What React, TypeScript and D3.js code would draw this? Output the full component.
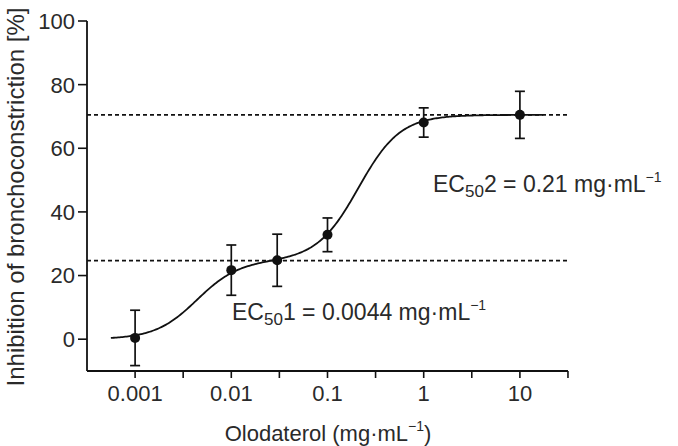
import React from "react";
import * as d3 from "d3";

const doses = [0.001, 0.01, 0.03, 0.1, 1, 10];
const means = [0.4, 21.7, 24.8, 32.8, 68.1, 70.5];
const sems = [8.7, 7.9, 8.2, 5.3, 4.6, 7.4];

const xTickValues = [0.001, 0.01, 0.1, 1, 10];
const xTickLabels = ["0.001", "0.01", "0.1", "1", "10"];
const xMinorTicks = [0.000316, 0.00316, 0.0316, 0.316, 3.16, 31.6];
const yTicks = [0, 20, 40, 60, 80, 100];

// fitted biphasic model parameters
const fitBottom = 0;
const fitPlateau = 24.7;
const fitTop = 70.5;
const fitEC50a = 0.0044;
const fitEC50b = 0.21;
const fitHillA = 2;
const fitHillB = 2;
const fitRange = [0.00056, 17.5];

const W = 678;
const H = 446;
const FONT = "'Liberation Sans', Arial, sans-serif";
const TXT = "#2a2a2a";
const INK = "#111";

export default function App() {
  const x = d3.scaleLog().domain([Math.pow(10, -3.5), Math.pow(10, 1.5)]).range([87, 568]);
  const y = d3.scaleLinear().domain([-10, 100]).range([371, 21]);

  const model = (c: number) =>
    fitBottom +
    (fitPlateau - fitBottom) / (1 + Math.pow(fitEC50a / c, fitHillA)) +
    (fitTop - fitPlateau) / (1 + Math.pow(fitEC50b / c, fitHillB));

  const lx0 = Math.log10(fitRange[0]);
  const lx1 = Math.log10(fitRange[1]);
  const curvePts: [number, number][] = d3.range(0, 301).map((i) => {
    const c = Math.pow(10, lx0 + ((lx1 - lx0) * i) / 300);
    return [x(c), y(model(c))];
  });
  const line = d3.line().curve(d3.curveLinear)(curvePts) || "";

  const [x0, x1] = x.range();
  const [yb, yt] = y.range();

  return (
    <svg width={W} height={H} style={{ position: "absolute", left: 0, top: 0, background: "#fff" }} fontFamily={FONT}>
      {/* dashed plateau lines */}
      {[fitTop, fitPlateau].map((v, i) => (
        <line key={"d" + i} x1={x0} x2={x1} y1={y(v)} y2={y(v)} stroke={INK} strokeWidth={1.6} strokeDasharray="4,3" />
      ))}

      {/* axes */}
      <line x1={x0} x2={x0} y1={yb} y2={yt} stroke={INK} strokeWidth={1.8} />
      <line x1={x0} x2={x1} y1={yb} y2={yb} stroke={INK} strokeWidth={1.8} />
      {yTicks.map((t) => (
        <g key={"yt" + t}>
          <line x1={x0 - 9} x2={x0} y1={y(t)} y2={y(t)} stroke={INK} strokeWidth={1.6} />
          <text x={x0 - 12} y={y(t)} dy="0.36em" textAnchor="end" fontSize={22} fill={TXT}>
            {t}
          </text>
        </g>
      ))}
      {xTickValues.map((t, i) => (
        <g key={"xt" + t}>
          <line x1={x(t)} x2={x(t)} y1={yb} y2={yb + 7} stroke={INK} strokeWidth={1.6} />
          <text x={x(t)} y={yb + 30} textAnchor="middle" fontSize={22} fill={TXT}>
            {xTickLabels[i]}
          </text>
        </g>
      ))}
      {xMinorTicks.map((t) =>
        x(t) > x0 + 2 && x(t) <= x1 + 1 ? (
          <line key={"xm" + t} x1={x(t)} x2={x(t)} y1={yb} y2={yb + 7} stroke={INK} strokeWidth={1.6} />
        ) : null
      )}

      {/* fitted curve */}
      <path d={line} fill="none" stroke={INK} strokeWidth={1.8} />

      {/* error bars and points */}
      {doses.map((dv, i) => {
        const cx = x(dv);
        const top = y(means[i] + sems[i]);
        const bot = y(means[i] - sems[i]);
        return (
          <g key={"p" + i}>
            <line x1={cx} x2={cx} y1={top} y2={bot} stroke={INK} strokeWidth={1.7} />
            <line x1={cx - 5} x2={cx + 5} y1={top} y2={top} stroke={INK} strokeWidth={1.7} />
            <line x1={cx - 5} x2={cx + 5} y1={bot} y2={bot} stroke={INK} strokeWidth={1.7} />
            <circle cx={cx} cy={y(means[i])} r={5} fill={INK} />
          </g>
        );
      })}

      {/* annotations */}
      <text x={433} y={192} fontSize={23} fill={TXT}>
        EC
        <tspan fontSize={17} dy={5}>50</tspan>
        <tspan dy={-5}>2 = 0.21 mg·mL</tspan>
        <tspan fontSize={14} dy={-10}>−1</tspan>
      </text>
      <text x={232} y={320} fontSize={23} fill={TXT}>
        EC
        <tspan fontSize={17} dy={5}>50</tspan>
        <tspan dy={-5}>1 = 0.0044 mg·mL</tspan>
        <tspan fontSize={14} dy={-10}>−1</tspan>
      </text>

      {/* axis titles */}
      <text x={328} y={441} textAnchor="middle" fontSize={22} fill={TXT}>
        Olodaterol (mg·mL
        <tspan fontSize={14} dy={-10}>−1</tspan>
        <tspan dy={10}>)</tspan>
      </text>
      <text transform={`translate(24,197) rotate(-90)`} textAnchor="middle" fontSize={24} fill={TXT}>
        Inhibition of bronchoconstriction [%]
      </text>
    </svg>
  );
}
